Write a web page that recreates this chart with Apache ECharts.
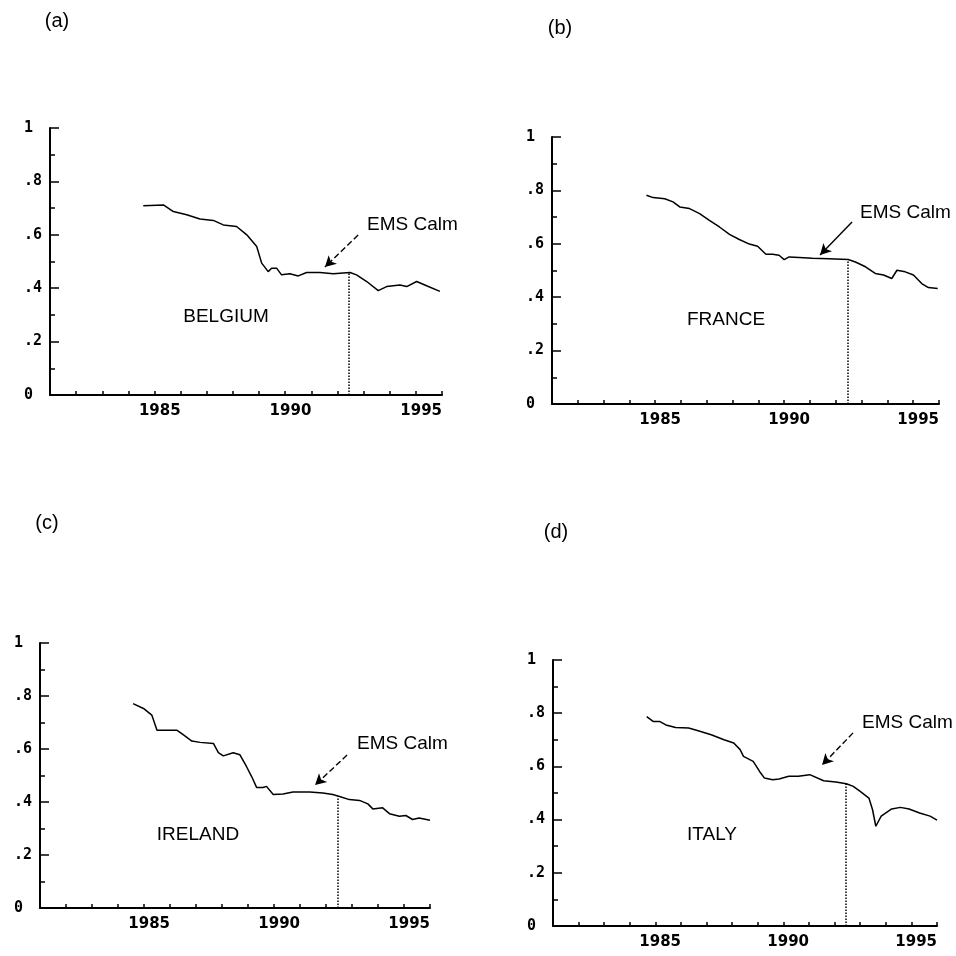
<!DOCTYPE html>
<html>
<head>
<meta charset="utf-8">
<script src="https://cdn.jsdelivr.net/npm/echarts@6/dist/echarts.min.js"></script>
<style>
html, body { margin: 0; padding: 0; background: #fff; }
#chart { width: 956px; height: 956px; }
</style>
</head>
<body>
<div id="chart"></div>
<script>
// values, [year, value]
var belgium = [
    [1983.57, 0.709], [1984.34, 0.712], [1984.72, 0.687], [1985.23, 0.675], [1985.74, 0.659],
    [1986.25, 0.654], [1986.63, 0.637], [1987.14, 0.631], [1987.53, 0.600], [1987.91, 0.556],
    [1988.10, 0.494], [1988.35, 0.462], [1988.48, 0.475], [1988.67, 0.475], [1988.86, 0.450],
    [1989.18, 0.454], [1989.50, 0.446], [1989.82, 0.459], [1990.33, 0.459], [1990.84, 0.454],
    [1991.48, 0.459], [1991.73, 0.450], [1992.12, 0.425], [1992.56, 0.391], [1992.88, 0.406],
    [1993.39, 0.412], [1993.65, 0.406], [1994.03, 0.425], [1994.41, 0.409], [1994.92, 0.388]
];
var france = [
    [1983.66, 0.782], [1983.92, 0.773], [1984.37, 0.769], [1984.69, 0.757], [1984.95, 0.738],
    [1985.33, 0.732], [1985.72, 0.713], [1986.10, 0.688], [1986.49, 0.663], [1986.88, 0.635],
    [1987.26, 0.616], [1987.65, 0.599], [1987.97, 0.591], [1988.29, 0.561], [1988.55, 0.561],
    [1988.80, 0.557], [1989.00, 0.541], [1989.19, 0.551], [1989.58, 0.549], [1990.09, 0.546],
    [1990.73, 0.544], [1991.48, 0.541], [1991.76, 0.532], [1992.15, 0.514], [1992.53, 0.489],
    [1992.85, 0.483], [1993.17, 0.470], [1993.37, 0.501], [1993.69, 0.495], [1994.01, 0.483],
    [1994.33, 0.451], [1994.59, 0.436], [1994.95, 0.433]
];
var ireland = [
    [1983.58, 0.771], [1983.98, 0.753], [1984.30, 0.728], [1984.50, 0.671], [1984.88, 0.671],
    [1985.26, 0.671], [1985.52, 0.653], [1985.84, 0.630], [1986.16, 0.625], [1986.67, 0.621],
    [1986.86, 0.586], [1987.05, 0.574], [1987.43, 0.586], [1987.69, 0.578], [1987.94, 0.534],
    [1988.14, 0.496], [1988.33, 0.455], [1988.58, 0.455], [1988.71, 0.459], [1988.97, 0.428],
    [1989.35, 0.430], [1989.73, 0.438], [1990.37, 0.438], [1990.88, 0.434], [1991.26, 0.428],
    [1991.52, 0.421], [1991.90, 0.409], [1992.29, 0.406], [1992.61, 0.393], [1992.80, 0.374],
    [1993.18, 0.378], [1993.44, 0.356], [1993.82, 0.346], [1994.07, 0.349], [1994.33, 0.334],
    [1994.58, 0.340], [1995.00, 0.331]
];
var italy = [
    [1983.66, 0.787], [1983.91, 0.769], [1984.16, 0.769], [1984.41, 0.756], [1984.79, 0.746],
    [1985.30, 0.744], [1985.67, 0.734], [1986.18, 0.719], [1986.68, 0.700], [1987.06, 0.688],
    [1987.31, 0.663], [1987.44, 0.638], [1987.82, 0.619], [1988.07, 0.581], [1988.26, 0.556],
    [1988.58, 0.550], [1988.83, 0.553], [1989.21, 0.563], [1989.58, 0.563], [1990.03, 0.569],
    [1990.57, 0.546], [1991.05, 0.541], [1991.46, 0.535], [1991.73, 0.525], [1992.00, 0.506],
    [1992.34, 0.481], [1992.48, 0.438], [1992.61, 0.375], [1992.82, 0.413], [1993.23, 0.440],
    [1993.57, 0.446], [1993.91, 0.440], [1994.32, 0.425], [1994.73, 0.413], [1995.00, 0.398]
];

var countries = ['BELGIUM', 'FRANCE', 'IRELAND', 'ITALY'];
var panelNames = ['(a)', '(b)', '(c)', '(d)'];
var xLabels = [1985, 1990, 1995];
var yLabels = {'0.0': '0', '0.2': '.2', '0.4': '.4', '0.6': '.6', '0.8': '.8', '1.0': '1'};

// end of the EMS calm period and the level where the dotted drop line meets the curve
var emsEnd = 1991.45;
var cutLevel = [0.455, 0.541, 0.421, 0.535];
// "EMS Calm" arrows, data coordinates
var arrowFrom = [[1991.79, 0.599], [1991.63, 0.682], [1991.81, 0.577], [1991.72, 0.726]];
var arrowTo = [[1990.52, 0.479], [1990.39, 0.558], [1990.58, 0.464], [1990.51, 0.605]];
var arrowDashed = [true, false, true, true];

var seriesData = [belgium, france, ireland, italy];

var grids = [
    {left: 50, top: 128, width: 392, height: 267},
    {left: 552, top: 137, width: 387, height: 267},
    {left: 40, top: 643, width: 390, height: 265},
    {left: 553, top: 660, width: 384, height: 266}
];
var panelPos = [[57, 21], [560, 28], [47, 523], [556, 532]];
var countryPos = [[226, 317], [726, 320], [198, 835], [712, 835]];
var emsTextPos = [[367, 225], [860, 213], [357, 744], [862, 723]];

var xAxes = [], yAxes = [], series = [], graphic = [];

grids.forEach(function (g, i) {
    xAxes.push({
        type: 'value', gridIndex: i, min: 1980, max: 1995, interval: 1,
        axisLine: {show: true, onZero: false, lineStyle: {color: '#000', width: 2}},
        axisTick: {show: true, inside: true, length: 4, lineStyle: {color: '#000', width: 1.5}},
        axisLabel: {
            showMaxLabel: true, showMinLabel: true,
            align: 'right', margin: 9, color: '#000',
            fontFamily: 'DejaVu Sans', fontWeight: 'bold', fontSize: 15,
            formatter: function (v) { return xLabels.indexOf(Math.round(v)) >= 0 ? String(Math.round(v)) : ''; }
        },
        splitLine: {show: false}
    });
    yAxes.push({
        type: 'value', gridIndex: i, min: 0, max: 1, interval: 0.2,
        axisLine: {show: true, onZero: false, lineStyle: {color: '#000', width: 2}},
        axisTick: {show: true, inside: true, length: 9, lineStyle: {color: '#000', width: 1.5}},
        minorTick: {show: true, splitNumber: 2, length: 5, lineStyle: {color: '#000', width: 1.5}},
        axisLabel: {
            align: 'left', margin: 26, color: '#000',
            fontFamily: 'DejaVu Sans Mono', fontWeight: 'bold', fontSize: 15,
            formatter: function (v) { return yLabels[v.toFixed(1)]; }
        },
        splitLine: {show: false}
    });
    series.push({
        type: 'line', xAxisIndex: i, yAxisIndex: i,
        data: seriesData[i],
        symbol: 'none', showSymbol: false, smooth: false,
        lineStyle: {color: '#000', width: 1.5},
        silent: true,
        markLine: {
            silent: true, animation: false,
            symbol: ['none', 'arrow'], symbolSize: [9, 11],
            label: {show: false},
            data: [
                [
                    {coord: [emsEnd, 0], symbol: 'none', lineStyle: {type: 'dotted', color: '#000', width: 1.5}},
                    {coord: [emsEnd, cutLevel[i]], symbol: 'none'}
                ],
                [
                    {coord: arrowFrom[i], lineStyle: {type: arrowDashed[i] ? [6, 3] : 'solid', color: '#000', width: 1.4}},
                    {coord: arrowTo[i]}
                ]
            ]
        }
    });
    graphic.push({
        type: 'text', x: panelPos[i][0], y: panelPos[i][1],
        style: {text: panelNames[i], fill: '#000', font: '20px "Liberation Sans"', align: 'center', verticalAlign: 'middle'}
    });
    graphic.push({
        type: 'text', x: countryPos[i][0], y: countryPos[i][1],
        style: {text: countries[i], fill: '#000', font: '19px "Liberation Sans"', align: 'center', verticalAlign: 'middle'}
    });
    graphic.push({
        type: 'text', x: emsTextPos[i][0], y: emsTextPos[i][1],
        style: {text: 'EMS Calm', fill: '#000', font: '19px "Liberation Sans"', align: 'left', verticalAlign: 'middle'}
    });
});

var chart = echarts.init(document.getElementById('chart'));
chart.setOption({
    backgroundColor: '#fff',
    animation: false,
    grid: grids,
    xAxis: xAxes,
    yAxis: yAxes,
    series: series,
    graphic: graphic
});
</script>
</body>
</html>
